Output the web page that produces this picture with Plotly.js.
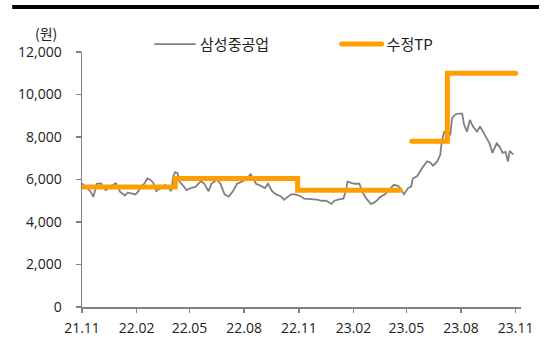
<!DOCTYPE html>
<html><head><meta charset="utf-8">
<script src="https://cdn.plot.ly/plotly-3.0.1.min.js"></script>
<style>
html,body{margin:0;padding:0;background:#fff;}
#chart{width:546px;height:340px;}
.js-line{stroke-linecap:round;}
</style>
</head><body>
<div id="chart"></div>
<script>
const priceDates = ['2021-11-01','2021-11-08','2021-11-15','2021-11-20','2021-11-26','2021-12-03','2021-12-11','2021-12-20','2021-12-28',
'2022-01-04','2022-01-12','2022-01-17','2022-01-23','2022-01-30','2022-02-04','2022-02-09','2022-02-14','2022-02-19','2022-02-24',
'2022-03-01','2022-03-06','2022-03-15','2022-03-21','2022-03-26','2022-03-31','2022-04-04','2022-04-07','2022-04-11','2022-04-14',
'2022-04-19','2022-04-26','2022-05-03','2022-05-11','2022-05-20','2022-05-26','2022-06-02','2022-06-07','2022-06-16','2022-06-22',
'2022-06-29','2022-07-06','2022-07-13','2022-07-20','2022-07-28','2022-08-04','2022-08-12','2022-08-21','2022-08-29','2022-09-05',
'2022-09-10','2022-09-17','2022-09-24','2022-10-02','2022-10-07','2022-10-12','2022-10-19','2022-10-26','2022-11-05','2022-11-10',
'2022-11-19','2022-11-25','2022-12-02','2022-12-09','2022-12-17','2022-12-26','2022-12-31','2023-01-09','2023-01-15','2023-01-19',
'2023-01-22','2023-01-27','2023-02-03','2023-02-11','2023-02-16','2023-02-23','2023-03-02','2023-03-07','2023-03-12','2023-03-17',
'2023-03-26','2023-04-03','2023-04-10','2023-04-17','2023-04-22','2023-04-27','2023-05-04','2023-05-09','2023-05-12','2023-05-19',
'2023-05-24','2023-05-29','2023-06-05','2023-06-10','2023-06-15','2023-06-22','2023-06-27','2023-06-30','2023-07-04','2023-07-09',
'2023-07-14','2023-07-17','2023-07-22','2023-07-27','2023-08-03','2023-08-06','2023-08-11','2023-08-16','2023-08-21','2023-08-28',
'2023-09-02','2023-09-07','2023-09-13','2023-09-18','2023-09-23','2023-09-30','2023-10-05','2023-10-10','2023-10-15','2023-10-19',
'2023-10-22','2023-10-27'];
const priceValues = [5800,5650,5450,5180,5800,5820,5500,5700,5820,
5430,5250,5380,5350,5300,5450,5700,5800,6050,5980,
5850,5450,5620,5750,5620,5450,6200,6350,6300,5900,
5750,5500,5600,5650,5920,5800,5450,5800,6000,5800,
5300,5200,5450,5800,5900,6000,6250,5800,5700,5600,
5800,5450,5300,5200,5050,5150,5300,5300,5200,5100,
5080,5100,5050,5000,5000,4850,5000,5080,5100,5450,
5900,5850,5800,5800,5400,5100,4850,4900,5000,5150,
5300,5550,5750,5700,5550,5300,5600,5650,6050,6150,
6400,6600,6850,6800,6650,6850,7150,7860,8250,8300,
8080,8890,9050,9100,9100,8600,8250,8800,8500,8250,
8500,8250,7950,7700,7250,7700,7550,7250,7300,6850,
7350,7200];

const tpDates  = ['2021-11-01','2022-04-07','2022-10-30','2023-04-21',null,'2023-05-10','2023-07-09','2023-11-01'];
const tpValues = [5650,6050,5500,5500,null,7800,11000,11000];

const tickDates = ['2021-11-01','2022-02-01','2022-05-01','2022-08-01','2022-11-01','2023-02-01','2023-05-01','2023-08-01','2023-11-01'];
const tickLabels = ['21.11','22.02','22.05','22.08','22.11','23.02','23.05','23.08','23.11'];
const yTicks = [0,2000,4000,6000,8000,10000,12000];
const yTickLabels = ['0','2,000','4,000','6,000','8,000','10,000','12,000'];
const seriesNames = ['삼성중공업','수정TP'];

const FONT = '"Segoe UI","Open Sans","Noto Sans CJK KR",sans-serif';
const KFONT = '"Noto Sans CJK KR",sans-serif';

const traces = [
  {x: priceDates, y: priceValues, type:'scatter', mode:'lines', name: seriesNames[0],
   line:{color:'#808080', width:1.8}, legend:'legend'},
  {x: tpDates, y: tpValues, type:'scatter', mode:'lines', name: seriesNames[1],
   line:{color:'#FF9E00', width:5, shape:'hv'}, connectgaps:false, legend:'legend2'}
];

const legBase = {orientation:'h', yanchor:'middle', xanchor:'left', y:1.03,
  font:{family:KFONT, size:15, color:'#222'}, itemwidth:40, bgcolor:'rgba(0,0,0,0)'};

const layout = {
  width:546, height:340,
  margin:{l:82, r:25, t:52, b:33, autoexpand:false},
  paper_bgcolor:'#fff', plot_bgcolor:'#fff',
  font:{family:FONT, size:14, color:'#222'},
  showlegend:true,
  legend:Object.assign({}, legBase, {x:0.155}),
  legend2:Object.assign({}, legBase, {x:0.58}),
  xaxis:{type:'date', range:['2021-11-01','2023-11-10'],
    tickvals:tickDates, ticktext:tickLabels, ticks:'outside', ticklen:4, tickwidth:1.5,
    tickcolor:'#808080', showline:true, linecolor:'#808080', linewidth:1.5, ticklabelstandoff:4,
    showgrid:false, zeroline:false, tickfont:{size:14, color:'#222'}},
  yaxis:{range:[0,12000], tickvals:yTicks, ticktext:yTickLabels, ticks:'outside', ticklen:5, tickwidth:1.5,
    tickcolor:'#808080', showline:true, linecolor:'#808080', linewidth:1.5, ticklabelstandoff:11,
    showgrid:false, zeroline:false, tickfont:{size:14, color:'#222'}},
  annotations:[{text:'(원)', xref:'paper', yref:'paper', x:-0.082, y:1.0745, xanchor:'center', yanchor:'middle',
    showarrow:false, font:{family:KFONT, size:14, color:'#222'}}],
  shapes:[{type:'line', xref:'paper', yref:'paper', x0:-0.159, x1:1.041, y0:1.1765, y1:1.1765,
    line:{color:'#000', width:4}}]
};

Plotly.newPlot('chart', traces, layout, {staticPlot:true, displayModeBar:false});
</script>
</body></html>
